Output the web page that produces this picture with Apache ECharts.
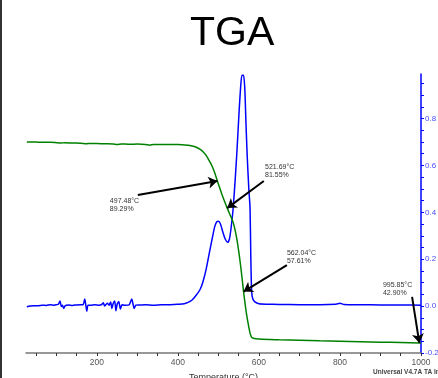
<!DOCTYPE html>
<html>
<head>
<meta charset="utf-8">
<script src="https://cdn.jsdelivr.net/npm/echarts@6/dist/echarts.min.js"></script>
<style>
  html, body { margin: 0; padding: 0; background: #fff; }
  #chart { width: 438px; height: 378px; }
</style>
</head>
<body>
<div id="chart"></div>
<script>
// Weight loss (%) vs temperature (°C)
const weightTemp = [27, 40, 55, 70, 85, 100, 110, 120, 140, 160, 175, 180, 200, 220, 240, 250, 260, 280, 300, 320, 330, 340, 360, 380, 400, 425, 435, 445, 455, 462, 470, 479, 485, 491, 497.48, 503, 509, 515, 521.69, 528, 536, 541, 546, 551, 555, 558, 562.04, 565, 568, 571, 575, 578, 580, 582, 586, 600, 650, 700, 750, 800, 850, 900, 950, 995.85, 1000];
const weightPct = [100.5, 100.5, 100.45, 100.4, 100.4, 100.3, 100.2, 100.3, 100.2, 100.15, 100.0, 100.1, 100.05, 100.0, 99.95, 99.8, 99.95, 99.85, 99.9, 99.8, 99.6, 99.8, 99.75, 99.75, 99.75, 99.55, 99.35, 99.0, 98.4, 97.7, 96.6, 94.8, 93.4, 91.6, 89.29, 87.4, 85.4, 83.5, 81.55, 79.8, 77.6, 75.3, 72.3, 68.4, 64.8, 61.8, 57.61, 54.8, 52.2, 50.0, 47.4, 45.7, 45.0, 44.5, 44.2, 44.0, 43.8, 43.65, 43.5, 43.4, 43.25, 43.1, 43.0, 42.90, 42.88];

// Derivative weight (%/°C) vs temperature (°C)
const derivTemp = [27, 35, 45, 55, 65, 75, 85, 95, 100, 105, 109, 112, 115, 118, 122, 130, 140, 150, 160, 166, 170, 172, 175, 178, 185, 195, 205, 212, 216, 219, 222, 226, 230, 234, 237, 240, 244, 247, 250, 254, 258, 262, 270, 280, 286, 289, 292, 296, 305, 320, 340, 360, 380, 400, 415, 425, 435, 445, 455, 462, 470, 479, 486, 491, 496, 500, 505, 511, 517, 523, 527, 531, 536, 541, 546, 551, 555, 558, 562, 565, 568, 571, 575, 578, 580, 582, 585, 590, 600, 620, 650, 700, 750, 790, 800, 810, 850, 900, 950, 1000];
const derivVal = [-0.003, 0.0, 0.002, 0.001, 0.004, 0.003, 0.006, 0.004, 0.006, 0.008, 0.022, -0.002, 0.004, -0.010, 0.002, 0.005, 0.003, 0.005, 0.006, 0.006, 0.030, 0.012, -0.022, 0.004, 0.004, 0.006, 0.004, 0.007, 0.014, 0.000, 0.006, 0.012, 0.004, 0.018, -0.010, 0.010, 0.022, -0.020, 0.008, 0.020, -0.012, 0.006, 0.004, 0.006, 0.030, 0.010, -0.010, 0.004, 0.005, 0.006, 0.004, 0.006, 0.006, 0.008, 0.010, 0.016, 0.026, 0.046, 0.072, 0.105, 0.160, 0.240, 0.300, 0.340, 0.360, 0.362, 0.350, 0.315, 0.285, 0.272, 0.285, 0.330, 0.410, 0.530, 0.670, 0.830, 0.940, 0.985, 0.985, 0.930, 0.780, 0.640, 0.500, 0.420, 0.200, 0.060, 0.030, 0.018, 0.010, 0.008, 0.007, 0.006, 0.006, 0.008, 0.012, 0.007, 0.006, 0.005, 0.005, 0.004];

// Axis ticks
const xTicks = [50, 100, 150, 200, 250, 300, 350, 400, 450, 500, 550, 600, 650, 700, 750, 800, 850, 900, 950, 1000];
const xLabels = [200, 400, 600, 800, 1000];
const derivTicks = [-0.2, -0.15, -0.1, -0.05, 0, 0.05, 0.1, 0.15, 0.2, 0.25, 0.3, 0.35, 0.4, 0.45, 0.5, 0.55, 0.6, 0.65, 0.7, 0.75, 0.8, 0.85, 0.9, 0.95];
const derivLabels = [-0.2, 0, 0.2, 0.4, 0.6, 0.8];

// Point annotations: marked temperature / weight, where each label sits and where its arrow starts
const annTemp = [497.48, 521.69, 562.04, 995.85];
const annWeight = [89.29, 81.55, 57.61, 42.90];
const annLabelAt = [[232, 82.4], [615, 92.2], [669, 67.5], [906, 58.35]];
const annTailAt = [[301, 85.3], [612, 89.3], [669, 65.2], [978, 56.1]];

const pair = (xs, ys) => xs.map((x, i) => [x, ys[i]]);
const fmt = v => (Math.abs(v) < 1e-9 ? '0.0' : String(Math.round(v * 10) / 10));

const chart = echarts.init(document.getElementById('chart'), null, { renderer: 'canvas' });

chart.setOption({
  animation: false,
  backgroundColor: '#ffffff',
  textStyle: { fontFamily: 'Liberation Sans, Arial, sans-serif' },
  title: {
    text: 'TGA',
    left: 185,
    top: 8,
    textStyle: { fontSize: 41, fontWeight: 'normal', color: '#000', fontFamily: 'Liberation Sans, Arial, sans-serif' }
  },
  grid: { left: 26, right: 17, top: 74, bottom: 25, containLabel: false, outerBoundsMode: 'none' },
  xAxis: {
    type: 'value',
    min: 25,
    max: 1000,
    name: 'Temperature (°C)',
    nameLocation: 'middle',
    nameGap: 20,
    nameTextStyle: { fontSize: 9, color: '#333' },
    axisLine: { show: true, onZero: false, lineStyle: { color: '#777', width: 1.5 } },
    axisTick: { show: true, length: 3, lineStyle: { color: '#333', width: 1 }, customValues: xTicks },
    axisLabel: { fontSize: 8.5, color: '#555', margin: 5, customValues: xLabels, formatter: v => String(v) },
    splitLine: { show: false }
  },
  yAxis: [
    {
      type: 'value',
      min: 40,
      max: 120,
      show: false
    },
    {
      type: 'value',
      position: 'right',
      min: -0.2,
      max: 0.99,
      axisLine: { show: true, onZero: false, lineStyle: { color: '#0000ff', width: 1.5 } },
      axisTick: { show: true, inside: false, length: 3, lineStyle: { color: '#0000ff', width: 1 }, customValues: derivTicks },
      axisLabel: { fontSize: 8, color: '#4a4aff', margin: 4, customValues: derivLabels, formatter: fmt },
      splitLine: { show: false }
    }
  ],
  series: [
    {
      name: 'Weight',
      type: 'line',
      yAxisIndex: 0,
      data: pair(weightTemp, weightPct),
      showSymbol: false,
      symbol: 'none',
      smooth: 0.3,
      lineStyle: { color: '#008000', width: 1.5 },
      z: 2,
      markLine: {
        silent: true,
        symbol: ['none', 'arrow'],
        symbolSize: 9,
        lineStyle: { color: '#000', width: 2, type: 'solid' },
        itemStyle: { color: '#000' },
        label: { show: false },
        data: annTemp.map((t, i) => [
          { coord: annTailAt[i] },
          { coord: [t, annWeight[i]] }
        ])
      },
      markPoint: {
        silent: true,
        symbol: 'circle',
        symbolSize: 0,
        data: annTemp.map((t, i) => ({
          coord: annLabelAt[i],
          label: {
            show: true,
            position: [0, 0],
            align: 'left',
            verticalAlign: 'middle',
            fontSize: 7,
            lineHeight: 8,
            color: '#333',
            formatter: t.toFixed(2) + '°C\n' + annWeight[i].toFixed(2) + '%'
          }
        }))
      }
    },
    {
      name: 'Deriv. Weight',
      type: 'line',
      yAxisIndex: 1,
      data: pair(derivTemp, derivVal),
      showSymbol: false,
      symbol: 'none',
      smooth: 0.2,
      lineStyle: { color: '#0000ff', width: 1.5 },
      z: 1
    }
  ],
  graphic: [
    {
      type: 'line',
      shape: { x1: 1, y1: 0, x2: 1, y2: 378 },
      style: { stroke: '#333', lineWidth: 2 },
      silent: true
    },
    {
      type: 'text',
      left: 373,
      top: 369,
      style: { text: 'Universal V4.7A TA Instruments', font: 'bold 6.5px Liberation Sans, Arial, sans-serif', fill: '#444' },
      silent: true
    }
  ]
});
</script>
</body>
</html>
